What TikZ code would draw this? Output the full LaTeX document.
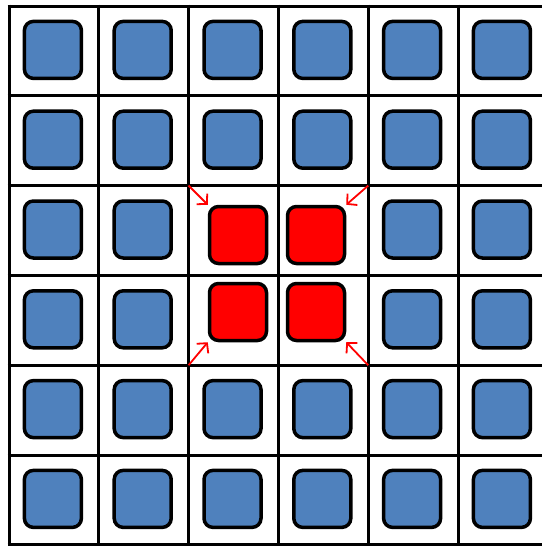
\documentclass[tikz,border=0pt]{standalone}
\usetikzlibrary{arrows.meta, math}
\definecolor{myblue}{RGB}{79,129,189}
\definecolor{myred}{RGB}{255,0,0}

\begin{document}
\begin{tikzpicture}[x=1pt,y=-1pt,
  cellbox/.style={draw, line width=3.5pt, rounded corners=9pt, minimum size=57pt, inner sep=0pt, fill=myblue},
  hotbox/.style={cellbox, fill=myred},
  pointer/.style={draw=myred, line width=1.8pt, -{Straight Barb[length=7pt,width=15pt]}}]
\tikzmath{
\d=89.8;
\xo=9;
\yo=6;
}
\useasboundingbox (0,0) rectangle (541,546);

% grid
\foreach \k in {0,...,6}{
  \draw[line width=3pt] (\xo+\k*\d,\yo-1.5) -- (\xo+\k*\d,\yo+6*\d+1.5);
  \draw[line width=3pt] (\xo-1.5,\yo+\k*\d) -- (\xo+6*\d+1.5,\yo+\k*\d);
}

% blue cells
\foreach \i in {0,...,5}{
  \foreach \j in {0,...,5}{
    \pgfmathtruncatemacro\inner{and(\i>1,\i<4)*and(\j>1,\j<4)}
    \ifnum\inner=0
      \node[cellbox] (b-\i-\j) at (\xo+\i*\d+\d/2-1,\yo+\j*\d+\d/2-1) {};
    \fi
  }
}

% red cells
\node[hotbox] (r-a) at (238,235) {};
\node[hotbox] (r-b) at (316,235) {};
\node[hotbox] (r-c) at (238,312) {};
\node[hotbox] (r-d) at (316,312) {};

\coordinate (g-nw) at (\xo+2*\d,\yo+2*\d);
\coordinate (g-ne) at (\xo+4*\d,\yo+2*\d);
\coordinate (g-sw) at (\xo+2*\d,\yo+4*\d);
\coordinate (g-se) at (\xo+4*\d,\yo+4*\d);

\draw[pointer] (g-nw) -- (r-a.north west);
\draw[pointer] (g-ne) -- (r-b.north east);
\draw[pointer] (g-sw) -- (r-c.south west);
\draw[pointer] (g-se) -- (r-d.south east);
\end{tikzpicture}
\end{document}
